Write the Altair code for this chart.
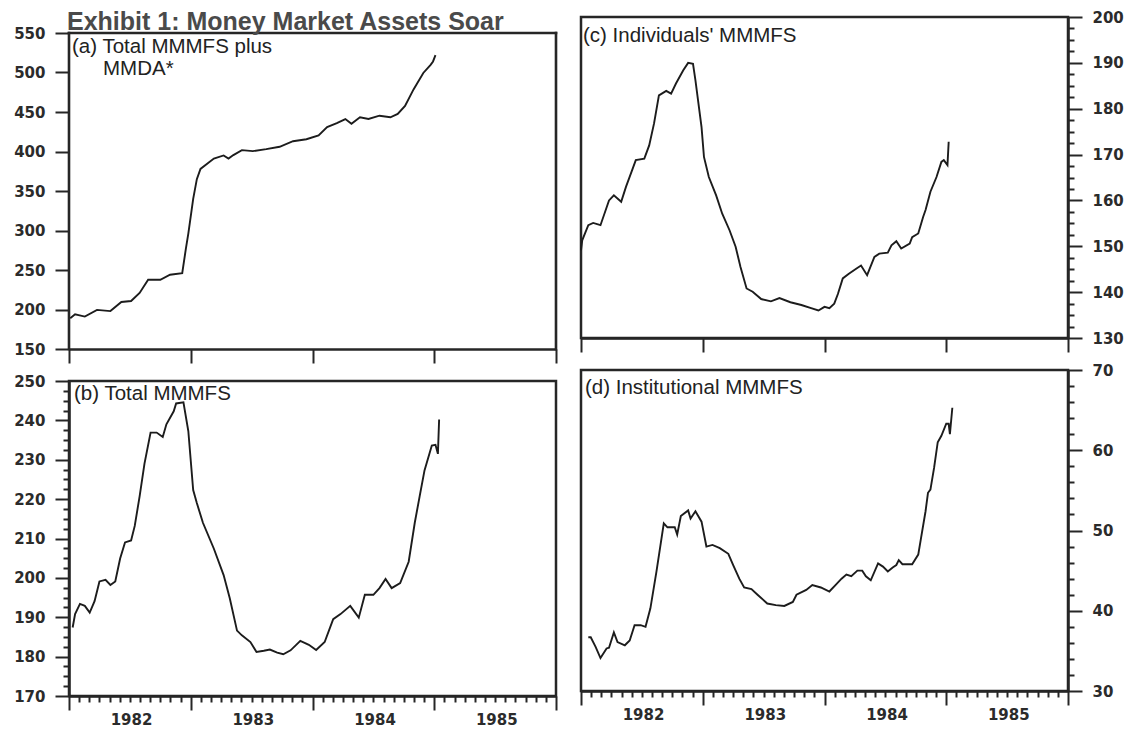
import altair as alt
import numpy as np
import pandas as pd

# (a) Total MMMFS plus MMDA ($ billions)
a_year = [1982.01, 1982.05, 1982.13, 1982.23, 1982.34, 1982.43, 1982.51, 1982.58, 1982.65, 1982.75,
          1982.83, 1982.93, 1982.96, 1982.98, 1983.02, 1983.05, 1983.08, 1983.14, 1983.19, 1983.27,
          1983.31, 1983.35, 1983.42, 1983.51, 1983.62, 1983.73, 1983.84, 1983.95, 1984.05, 1984.12,
          1984.20, 1984.27, 1984.32, 1984.39, 1984.46, 1984.55, 1984.64, 1984.70, 1984.76, 1984.83,
          1984.91, 1984.97, 1984.99, 1985.01]
a_val = [189, 194, 191, 199.5, 198, 209.5, 210.7, 221, 237.6, 237.6,
         244, 246, 277, 296, 340, 365, 378, 385, 391, 395,
         391, 395.5, 401.7, 400.5, 403, 406, 413, 415.5, 420.4, 430.8,
         435.8, 441, 435, 443.3, 441.2, 445.3, 443.3, 447.5, 457.8, 478.6,
         499.4, 509.7, 514, 522]

# (b) Total MMMFS
b_year = [1982.03, 1982.05, 1982.09, 1982.13, 1982.17, 1982.21, 1982.25, 1982.30, 1982.34, 1982.38,
          1982.42, 1982.46, 1982.51, 1982.54, 1982.58, 1982.62, 1982.67, 1982.72, 1982.77, 1982.80,
          1982.86, 1982.88, 1982.94, 1982.98, 1983.02, 1983.05, 1983.10, 1983.19, 1983.27, 1983.32,
          1983.38, 1983.42, 1983.49, 1983.54, 1983.60, 1983.65, 1983.71, 1983.76, 1983.82, 1983.90,
          1983.97, 1984.03, 1984.10, 1984.17, 1984.23, 1984.31, 1984.38, 1984.43, 1984.50, 1984.55,
          1984.60, 1984.65, 1984.72, 1984.79, 1984.84, 1984.88, 1984.92, 1984.98, 1985.01, 1985.03,
          1985.04]
b_val = [187.4, 190.8, 193.4, 192.9, 191.2, 194.1, 199.1, 199.5, 198.2, 199.1,
         204.9, 209.0, 209.5, 213.2, 220.7, 229.0, 236.9, 236.9, 235.8, 239.0,
         242.3, 244.3, 244.6, 237.3, 222.3, 219.0, 214.0, 207.4, 200.7, 194.9,
         186.6, 185.4, 183.7, 181.2, 181.5, 181.8, 181.0, 180.6, 181.6, 184.0,
         183.0, 181.7, 183.7, 189.5, 190.8, 192.9, 189.9, 195.7, 195.7, 197.4,
         199.7, 197.4, 198.7, 204.1, 214.0, 220.7, 227.3, 233.6, 233.8, 231.5,
         240.2]

# (c) Individuals' MMMFS
c_year = [1982.00, 1982.01, 1982.06, 1982.10, 1982.16, 1982.23, 1982.27, 1982.33, 1982.37, 1982.42,
          1982.45, 1982.52, 1982.56, 1982.60, 1982.64, 1982.70, 1982.74, 1982.78, 1982.84, 1982.88,
          1982.92, 1982.94, 1982.99, 1983.01, 1983.05, 1983.11, 1983.16, 1983.22, 1983.27, 1983.31,
          1983.36, 1983.41, 1983.48, 1983.56, 1983.63, 1983.72, 1983.81, 1983.89, 1983.95, 1984.00,
          1984.04, 1984.08, 1984.11, 1984.15, 1984.20, 1984.26, 1984.30, 1984.35, 1984.41, 1984.45,
          1984.52, 1984.55, 1984.59, 1984.63, 1984.70, 1984.72, 1984.77, 1984.81, 1984.83, 1984.87,
          1984.92, 1984.96, 1984.98, 1985.01, 1985.02]
c_val = [149.1, 151.3, 154.6, 155.1, 154.6, 160.0, 161.1, 159.7, 163.0, 166.6,
         168.8, 169.1, 172.0, 176.8, 182.9, 183.9, 183.3, 185.5, 188.4, 190.0,
         189.8, 186.2, 176.0, 169.5, 165.1, 161.1, 157.1, 153.5, 149.9, 145.5,
         140.8, 140.1, 138.5, 138.0, 138.7, 137.8, 137.2, 136.5, 136.0, 136.8,
         136.5, 137.5, 139.6, 143.0, 144.0, 145.1, 145.8, 143.7, 147.7, 148.4,
         148.6, 150.2, 151.1, 149.5, 150.6, 152.0, 152.8, 156.4, 157.9, 161.9,
         165.1, 168.4, 168.8, 167.7, 172.8]

# (d) Institutional MMMFS
d_year = [1982.06, 1982.08, 1982.12, 1982.16, 1982.21, 1982.23, 1982.27, 1982.30, 1982.36, 1982.40,
          1982.44, 1982.49, 1982.53, 1982.57, 1982.62, 1982.68, 1982.71, 1982.77, 1982.79, 1982.82,
          1982.88, 1982.90, 1982.94, 1982.99, 1983.03, 1983.08, 1983.14, 1983.21, 1983.25, 1983.30,
          1983.34, 1983.40, 1983.45, 1983.53, 1983.60, 1983.67, 1983.74, 1983.77, 1983.85, 1983.90,
          1983.97, 1984.04, 1984.09, 1984.14, 1984.18, 1984.22, 1984.27, 1984.31, 1984.34, 1984.38,
          1984.44, 1984.48, 1984.52, 1984.56, 1984.59, 1984.61, 1984.64, 1984.72, 1984.77, 1984.79,
          1984.83, 1984.85, 1984.87, 1984.90, 1984.93, 1984.96, 1985.00, 1985.02, 1985.03, 1985.05]
d_val = [36.7, 36.7, 35.5, 34.1, 35.3, 35.4, 37.3, 36.1, 35.7, 36.3,
         38.2, 38.2, 38.0, 40.3, 44.9, 50.9, 50.4, 50.4, 49.5, 51.8,
         52.5, 51.5, 52.4, 51.1, 48.0, 48.2, 47.8, 47.1, 45.7, 44.0,
         42.9, 42.7, 42.0, 40.9, 40.7, 40.6, 41.1, 42.0, 42.6, 43.2,
         42.9, 42.4, 43.2, 44.0, 44.5, 44.3, 45.0, 45.0, 44.3, 43.8,
         45.9, 45.5, 44.9, 45.4, 45.7, 46.3, 45.8, 45.8, 47.0, 48.8,
         52.4, 54.7, 55.1, 57.8, 61.0, 61.8, 63.3, 63.3, 62.0, 65.3]

title_text = "Exhibit 1: Money Market Assets Soar"
year_ticks = [1982, 1983, 1984, 1985, 1986]
month_ticks = [round(1982 + i / 12, 4) for i in range(49)]

INK = "#262626"
PW = 487
XMAJ = "abs(datum.value - round(datum.value)) < 0.01"
XLAB = XMAJ + " && datum.value < 1985.5"


def make_panel(years, vals, lo, hi, step, major, orient, labels, height, bottom, ext_px=0):
    """labels: list of (text, x_px, y_px) annotations inside the panel."""
    df = pd.DataFrame({"year": years, "value": vals})
    yticks = [round(float(v), 2) for v in np.arange(lo, hi + 1e-6, step)]
    ymaj = f"datum.value % {major} == 0"
    data_h = height - ext_px
    top = hi + ext_px * (hi - lo) / data_h
    yaxis = alt.Axis(orient=orient, values=yticks, title="", grid=False, format="d",
                     domain=(ext_px == 0),
                     tickSize={"condition": {"test": ymaj, "value": 14}, "value": 6},
                     labelExpr=f"{ymaj} ? datum.label : ''",
                     labelPadding=10, labelOverlap=False, labelFlush=False)
    if bottom:
        xaxis = alt.Axis(values=month_ticks, title="", grid=False,
                         tickSize={"condition": {"test": XMAJ, "value": 14}, "value": 6},
                         labelExpr=f"{XLAB} ? toString(round(datum.value)) : ''",
                         labelOffset={"condition": {"test": XLAB, "value": 62}, "value": 0},
                         labelPadding=2, labelOverlap=False, labelFlush=False, labelAngle=0)
    else:
        xaxis = alt.Axis(values=year_ticks, title="", grid=False, tickSize=14, labels=False)
    xs = alt.Scale(domain=[1982, 1986], nice=False, zero=False)
    ys = alt.Scale(domain=[lo, top], nice=False, zero=False)
    line = alt.Chart(df).mark_line(color="#1c1c1c", strokeWidth=1.9).encode(
        x=alt.X("year:Q", scale=xs, axis=xaxis),
        y=alt.Y("value:Q", scale=ys, axis=yaxis),
    )
    layers = [line]
    if ext_px:
        frame = pd.DataFrame({"x": [1982, 1982, 1986], "x2": [1986, 1982, 1986],
                              "y": [hi, lo, lo], "y2": [hi, hi, hi]})
        layers.append(alt.Chart(frame).mark_rule(color=INK, strokeWidth=2.6, strokeCap="square").encode(
            x="x:Q", x2="x2:Q", y="y:Q", y2="y2:Q"))
    for text, tx, ty in labels:
        layers.append(alt.Chart(pd.DataFrame({"t": [text]})).mark_text(
            align="left", baseline="top", font="Liberation Sans", fontSize=20.5, color="#222222",
        ).encode(x=alt.value(tx), y=alt.value(ty), text="t:N"))
    ch = alt.layer(*layers).properties(width=PW, height=height)
    if ext_px:
        ch = ch.properties(view=alt.ViewConfig(stroke="transparent"))
    return ch


pa = make_panel(a_year, a_val, 150, 550, 25, 50, "left",
                [("(a) Total MMMFS plus", 3, 20), ("MMDA*", 34, 42)], 332, False, ext_px=16)
pb = make_panel(b_year, b_val, 170, 250, 2.5, 10, "left",
                [("(b) Total MMMFS", 5, 3)], 315, True)
pc = make_panel(c_year, c_val, 130, 200, 2.5, 10, "right",
                [("(c) Individuals' MMMFS", 2, 9)], 321, False)
pd_ = make_panel(d_year, d_val, 30, 70, 2, 10, "right",
                 [("(d) Institutional MMMFS", 4, 8)], 321, True)

left = alt.vconcat(
    pa, pb, spacing=32, bounds="flush",
    title=alt.TitleParams(title_text, anchor="start", frame="group", dx=-2, offset=-19,
                          font="Liberation Sans", fontSize=25, fontWeight="bold", color="#4a4a4a"),
)
right = alt.vconcat(pc, pd_, spacing=32, bounds="flush")

chart = alt.hconcat(left, right, spacing=15).properties(
    padding={"left": 4, "top": 0, "right": 5, "bottom": 0}
).configure_view(
    stroke=INK, strokeWidth=2.5
).configure_axis(
    labelFont="DejaVu Sans", labelFontSize=15, labelFontWeight="bold", labelColor="#2b2b2b",
    tickColor=INK, tickWidth=2, domainColor=INK, domainWidth=2.5,
)

chart.save("out.html", embed_options={"renderer": "svg", "actions": False})
